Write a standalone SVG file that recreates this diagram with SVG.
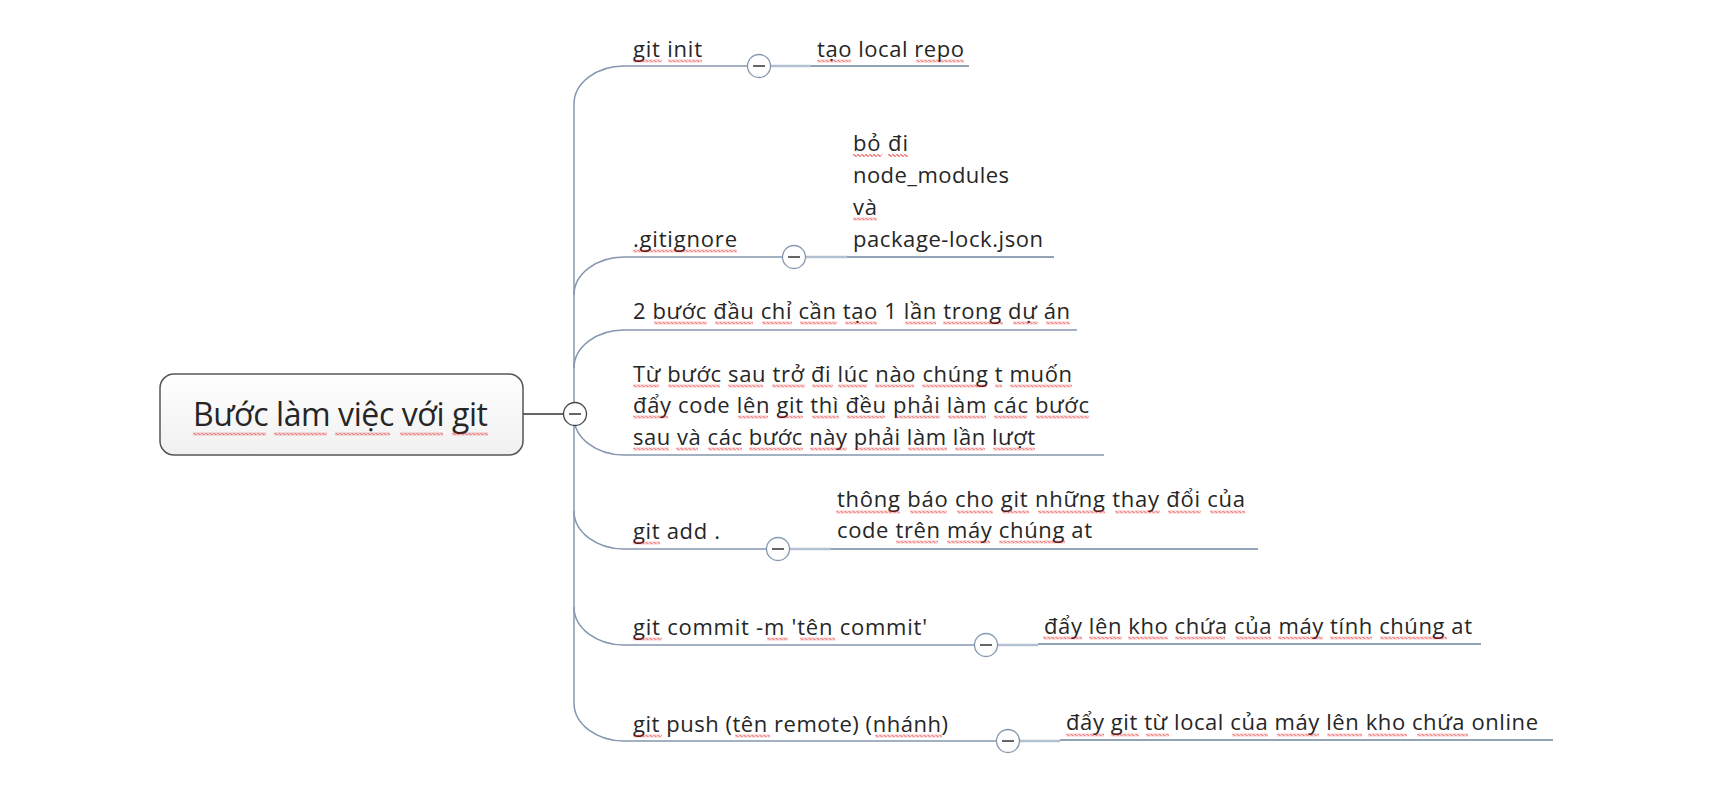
<svg xmlns="http://www.w3.org/2000/svg" width="1734" height="793" viewBox="0 0 1734 793">
<defs>
<linearGradient id="boxg" x1="0" y1="0" x2="0" y2="1">
<stop offset="0" stop-color="#FFFFFF"/>
<stop offset="1" stop-color="#F0F0F0"/>
</linearGradient>
<pattern id="wv" width="4" height="3" patternUnits="userSpaceOnUse">
<path d="M0,1.5 L1,0.5 L3,2.5 L4,1.5" fill="none" stroke="#E00000" stroke-width="1"/>
</pattern>
</defs>
<style>
text{font-family:"Open Sans","Noto Sans","DejaVu Sans",sans-serif;fill:#262626;}
.t{font-size:22px;}
.c{font-size:32px;}
.br{fill:none;stroke:#8497AF;stroke-width:1.5;}
.lt{fill:none;stroke:#B2C0D1;stroke-width:2.5;}
.ul{fill:none;stroke:#6F86A0;stroke-width:1.5;}
.cb{fill:#FFFFFF;stroke:#8497AF;stroke-width:1.3;}
.mn{stroke:#333333;stroke-width:1.5;}
.sq{fill:url(#wv);}
</style>
<rect width="1734" height="793" fill="#FFFFFF"/>

<g id="connectors">
<path class="br" d="M574,104 V703"/>
<path class="br" d="M574,104 A50,38 0 0 1 624,66 H747"/>
<path class="br" d="M574,295 A50,38 0 0 1 624,257 H782"/>
<path class="br" d="M574,368 A50,38 0 0 1 624,330 H1077"/>
<path class="br" d="M574,417 A50,38 0 0 0 624,455 H1104"/>
<path class="br" d="M574,511 A50,38 0 0 0 624,549 H766"/>
<path class="br" d="M574,607 A50,38 0 0 0 624,645 H974"/>
<path class="br" d="M574,703 A50,38 0 0 0 624,741 H996"/>
<path class="lt" d="M771,66 H811"/>
<path class="lt" d="M806,257 H847"/>
<path class="lt" d="M790,549 H831"/>
<path class="lt" d="M998,645 H1038"/>
<path class="lt" d="M1020,741 H1060"/>
<path class="ul" d="M811,66 H969"/>
<path class="ul" d="M847,257 H1054"/>
<path class="ul" d="M831,549 H1258"/>
<path class="ul" d="M1038,644 H1481"/>
<path class="ul" d="M1060,740 H1553"/>
<path d="M523,414 H563" fill="none" stroke="#333333" stroke-width="1.3"/>
</g>

<g id="root">
<rect x="160" y="374" width="363" height="81" rx="14" fill="url(#boxg)" stroke="#555555" stroke-width="1.5"/>
<text class="c" x="193" y="426" textLength="295" lengthAdjust="spacing">Bước làm việc với git</text>
<circle cx="575" cy="414" r="11.5" fill="#FFFFFF" stroke="#444444" stroke-width="1.3"/>
<path class="mn" d="M569,414 H581"/>
</g>

<g id="n-git-init">
<text class="t" x="633" y="57" textLength="69" lengthAdjust="spacing">git init</text>
<circle class="cb" cx="759" cy="66" r="11.5"/>
<path class="mn" d="M753,66 H765"/>
</g>
<g id="n-tao-local-repo">
<text class="t" x="817" y="57" textLength="147" lengthAdjust="spacing">tạo local repo</text>
</g>

<g id="n-gitignore">
<text class="t" x="633" y="247" textLength="104" lengthAdjust="spacing">.gitignore</text>
<circle class="cb" cx="794" cy="257" r="11.5"/>
<path class="mn" d="M788,257 H800"/>
</g>
<g id="n-bo-di">
<text class="t" x="853" y="151" textLength="55" lengthAdjust="spacing">bỏ đi</text>
<text class="t" x="853" y="183" textLength="156" lengthAdjust="spacing">node_modules</text>
<text class="t" x="853" y="215" textLength="24" lengthAdjust="spacing">và</text>
<text class="t" x="853" y="247" textLength="190" lengthAdjust="spacing">package-lock.json</text>
</g>

<g id="n-2-buoc">
<text class="t" x="633" y="319" textLength="437" lengthAdjust="spacing">2 bước đầu chỉ cần tạo 1 lần trong dự án</text>
</g>

<g id="n-tu-buoc-sau">
<text class="t" x="633" y="382" textLength="439" lengthAdjust="spacing">Từ bước sau trở đi lúc nào chúng t muốn</text>
<text class="t" x="633" y="413" textLength="456" lengthAdjust="spacing">đẩy code lên git thì đều phải làm các bước</text>
<text class="t" x="633" y="445" textLength="402" lengthAdjust="spacing">sau và các bước này phải làm lần lượt</text>
</g>

<g id="n-git-add">
<text class="t" x="633" y="539" textLength="87" lengthAdjust="spacing">git add .</text>
<circle class="cb" cx="778" cy="549" r="11.5"/>
<path class="mn" d="M772,549 H784"/>
</g>
<g id="n-thong-bao">
<text class="t" x="837" y="507" textLength="408" lengthAdjust="spacing">thông báo cho git những thay đổi của</text>
<text class="t" x="837" y="538" textLength="255" lengthAdjust="spacing">code trên máy chúng at</text>
</g>

<g id="n-git-commit">
<text class="t" x="633" y="635" textLength="294" lengthAdjust="spacing">git commit -m 'tên commit'</text>
<circle class="cb" cx="986" cy="645" r="11.5"/>
<path class="mn" d="M980,645 H992"/>
</g>
<g id="n-day-len-kho">
<text class="t" x="1044" y="634" textLength="428" lengthAdjust="spacing">đẩy lên kho chứa của máy tính chúng at</text>
</g>

<g id="n-git-push">
<text class="t" x="633" y="732" textLength="315" lengthAdjust="spacing">git push (tên remote) (nhánh)</text>
<circle class="cb" cx="1008" cy="741" r="11.5"/>
<path class="mn" d="M1002,741 H1014"/>
</g>
<g id="n-day-git">
<text class="t" x="1066" y="730" textLength="472" lengthAdjust="spacing">đẩy git từ local của máy lên kho chứa online</text>
</g>

<g id="spellcheck">
<rect class="sq" transform="translate(193,432.5)" width="73" height="3"/>
<rect class="sq" transform="translate(274,432.5)" width="53" height="3"/>
<rect class="sq" transform="translate(335,432.5)" width="55" height="3"/>
<rect class="sq" transform="translate(400,432.5)" width="43" height="3"/>
<rect class="sq" transform="translate(452,432.5)" width="36" height="3"/>
<rect class="sq" transform="translate(633,59.5)" width="29" height="3"/>
<rect class="sq" transform="translate(668,59.5)" width="34" height="3"/>
<rect class="sq" transform="translate(817,59.5)" width="34" height="3"/>
<rect class="sq" transform="translate(916,59.5)" width="48" height="3"/>
<rect class="sq" transform="translate(633,249.5)" width="104" height="3"/>
<rect class="sq" transform="translate(853,154)" width="29" height="3"/>
<rect class="sq" transform="translate(888,154)" width="20" height="3"/>
<rect class="sq" transform="translate(853,217.5)" width="24" height="3"/>
<rect class="sq" transform="translate(654,321.5)" width="53" height="3"/>
<rect class="sq" transform="translate(715,321.5)" width="38" height="3"/>
<rect class="sq" transform="translate(762,321.5)" width="30" height="3"/>
<rect class="sq" transform="translate(800,321.5)" width="37" height="3"/>
<rect class="sq" transform="translate(845,321.5)" width="32" height="3"/>
<rect class="sq" transform="translate(905,321.5)" width="31" height="3"/>
<rect class="sq" transform="translate(943,321.5)" width="60" height="3"/>
<rect class="sq" transform="translate(1013,321.5)" width="25" height="3"/>
<rect class="sq" transform="translate(1046,321.5)" width="24" height="3"/>
<rect class="sq" transform="translate(633,384.5)" width="26" height="3"/>
<rect class="sq" transform="translate(668,384.5)" width="52" height="3"/>
<rect class="sq" transform="translate(728,384.5)" width="35" height="3"/>
<rect class="sq" transform="translate(772,384.5)" width="33" height="3"/>
<rect class="sq" transform="translate(812,384.5)" width="21" height="3"/>
<rect class="sq" transform="translate(838,384.5)" width="29" height="3"/>
<rect class="sq" transform="translate(875,384.5)" width="39" height="3"/>
<rect class="sq" transform="translate(922,384.5)" width="65" height="3"/>
<rect class="sq" transform="translate(995,384.5)" width="7" height="3"/>
<rect class="sq" transform="translate(1010,384.5)" width="62" height="3"/>
<rect class="sq" transform="translate(633,415.5)" width="35" height="3"/>
<rect class="sq" transform="translate(738,415.5)" width="30" height="3"/>
<rect class="sq" transform="translate(777,415.5)" width="26" height="3"/>
<rect class="sq" transform="translate(812,415.5)" width="27" height="3"/>
<rect class="sq" transform="translate(847,415.5)" width="38" height="3"/>
<rect class="sq" transform="translate(895,415.5)" width="45" height="3"/>
<rect class="sq" transform="translate(948,415.5)" width="38" height="3"/>
<rect class="sq" transform="translate(994,415.5)" width="33" height="3"/>
<rect class="sq" transform="translate(1036,415.5)" width="53" height="3"/>
<rect class="sq" transform="translate(633,447.5)" width="36" height="3"/>
<rect class="sq" transform="translate(676,447.5)" width="22" height="3"/>
<rect class="sq" transform="translate(708,447.5)" width="34" height="3"/>
<rect class="sq" transform="translate(749,447.5)" width="54" height="3"/>
<rect class="sq" transform="translate(810,447.5)" width="37" height="3"/>
<rect class="sq" transform="translate(855,447.5)" width="45" height="3"/>
<rect class="sq" transform="translate(908,447.5)" width="39" height="3"/>
<rect class="sq" transform="translate(955,447.5)" width="30" height="3"/>
<rect class="sq" transform="translate(993,447.5)" width="42" height="3"/>
<rect class="sq" transform="translate(633,541.5)" width="27" height="3"/>
<rect class="sq" transform="translate(836,510.5)" width="64" height="3"/>
<rect class="sq" transform="translate(910,510.5)" width="37" height="3"/>
<rect class="sq" transform="translate(957,510.5)" width="36" height="3"/>
<rect class="sq" transform="translate(1002,510.5)" width="27" height="3"/>
<rect class="sq" transform="translate(1038,510.5)" width="67" height="3"/>
<rect class="sq" transform="translate(1115,510.5)" width="45" height="3"/>
<rect class="sq" transform="translate(1168,510.5)" width="33" height="3"/>
<rect class="sq" transform="translate(1210,510.5)" width="35" height="3"/>
<rect class="sq" transform="translate(896,540.5)" width="42" height="3"/>
<rect class="sq" transform="translate(947,540.5)" width="43" height="3"/>
<rect class="sq" transform="translate(999,540.5)" width="66" height="3"/>
<rect class="sq" transform="translate(633,637.5)" width="29" height="3"/>
<rect class="sq" transform="translate(767,637.5)" width="21" height="3"/>
<rect class="sq" transform="translate(800,637.5)" width="35" height="3"/>
<rect class="sq" transform="translate(633,734.5)" width="29" height="3"/>
<rect class="sq" transform="translate(735,734.5)" width="35" height="3"/>
<rect class="sq" transform="translate(875,734.5)" width="67" height="3"/>
<rect class="sq" transform="translate(1043,636.5)" width="39" height="3"/>
<rect class="sq" transform="translate(1089,636.5)" width="33" height="3"/>
<rect class="sq" transform="translate(1128,636.5)" width="40" height="3"/>
<rect class="sq" transform="translate(1175,636.5)" width="50" height="3"/>
<rect class="sq" transform="translate(1236,636.5)" width="35" height="3"/>
<rect class="sq" transform="translate(1278,636.5)" width="45" height="3"/>
<rect class="sq" transform="translate(1330,636.5)" width="42" height="3"/>
<rect class="sq" transform="translate(1380,636.5)" width="67" height="3"/>
<rect class="sq" transform="translate(1066,733.5)" width="38" height="3"/>
<rect class="sq" transform="translate(1111,733.5)" width="28" height="3"/>
<rect class="sq" transform="translate(1146,733.5)" width="23" height="3"/>
<rect class="sq" transform="translate(1232,733.5)" width="36" height="3"/>
<rect class="sq" transform="translate(1277,733.5)" width="42" height="3"/>
<rect class="sq" transform="translate(1327,733.5)" width="35" height="3"/>
<rect class="sq" transform="translate(1368,733.5)" width="39" height="3"/>
<rect class="sq" transform="translate(1417,733.5)" width="51" height="3"/>
</g>
</svg>
